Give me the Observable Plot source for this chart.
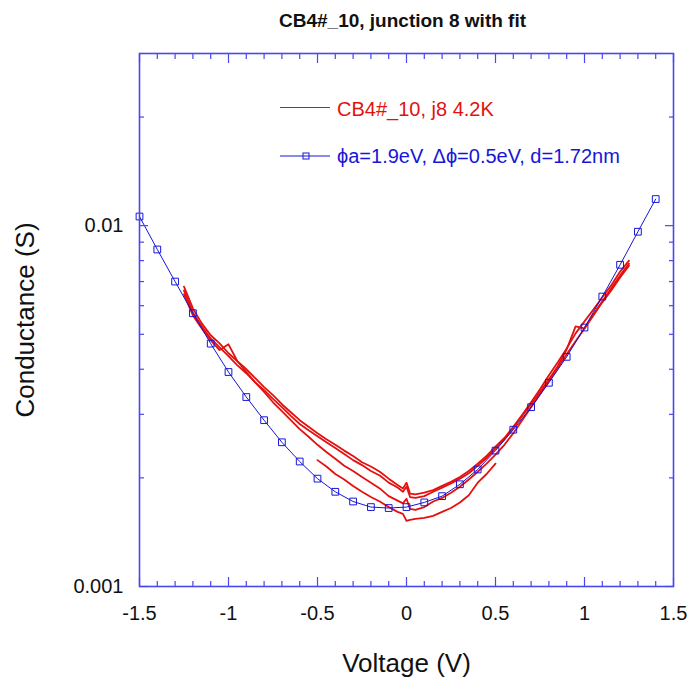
<!DOCTYPE html>
<html><head><meta charset="utf-8">
<script src="https://cdn.jsdelivr.net/npm/d3@7"></script>
<script src="https://cdn.jsdelivr.net/npm/@observablehq/plot@0.6"></script>
<style>
html,body{margin:0;padding:0;background:#fff;}
#chart{position:relative;width:689px;height:681px;}
</style></head><body><div id="chart"></div>
<script>
// ---- data ----
const fitVolts = [-1.5,-1.4,-1.3,-1.2,-1.1,-1.0,-0.9,-0.8,-0.7,-0.6,-0.5,-0.4,-0.3,-0.2,-0.1,0,0.1,0.2,0.3,0.4,0.5,0.6,0.7,0.8,0.9,1.0,1.1,1.2,1.3,1.4];
const fitConductance = [0.0106,0.00859,0.00700,0.00572,0.00471,0.00393,0.00335,0.00289,0.00251,0.00222,0.00199,0.00183,0.00172,0.00166,0.00165,0.00166,0.00171,0.00178,0.00192,0.00211,0.00238,0.00272,0.00314,0.00367,0.00433,0.00522,0.00636,0.00779,0.00962,0.01185];

const sweepVolts = [-1.25,-1.2,-1.15,-1.1,-1.05,-1,-0.95,-0.9,-0.85,-0.8,-0.75,-0.7,-0.65,-0.6,-0.55,-0.5,-0.45,-0.4,-0.35,-0.3,-0.25,-0.2,-0.15,-0.1,-0.05,-0.02,0,0.02,0.05,0.1,0.15,0.2,0.25,0.3,0.35,0.4,0.45,0.5,0.55,0.6,0.65,0.7,0.75,0.8,0.85,0.9,0.95,1,1.05,1.1,1.15,1.2,1.25];
const sweep1 = [0.00678,0.00590,0.00536,0.00497,0.00472,0.00443,0.00421,0.00400,0.00378,0.00357,0.00339,0.00320,0.00304,0.00289,0.00277,0.00266,0.00256,0.00247,0.00238,0.00230,0.00221,0.00215,0.00208,0.00199,0.00191,0.00187,0.00194,0.00181,0.00180,0.00182,0.00185,0.00190,0.00195,0.00201,0.00209,0.00219,0.00230,0.00244,0.00258,0.00277,0.00299,0.00324,0.00352,0.00385,0.00418,0.00457,0.00503,0.00543,0.00586,0.00633,0.00683,0.00746,0.00800];
const sweep2 = [0.00661,0.00575,0.00526,0.00487,0.00460,0.00435,0.00410,0.00390,0.00368,0.00350,0.00331,0.00314,0.00297,0.00282,0.00271,0.00261,0.00251,0.00242,0.00233,0.00224,0.00217,0.00209,0.00203,0.00194,0.00188,0.00183,0.00189,0.00177,0.00176,0.00178,0.00183,0.00188,0.00193,0.00199,0.00206,0.00216,0.00227,0.00241,0.00256,0.00275,0.00297,0.00320,0.00346,0.00375,0.00408,0.00454,0.00526,0.00519,0.00568,0.00617,0.00670,0.00728,0.00785];
const sweep3 = [0.00645,0.00564,0.00519,0.00481,0.00452,0.00469,0.00421,0.00393,0.00368,0.00346,0.00324,0.00306,0.00289,0.00273,0.00260,0.00247,0.00236,0.00226,0.00216,0.00209,0.00201,0.00194,0.00187,0.00178,0.00173,0.00170,0.00175,0.00164,0.00163,0.00166,0.00172,0.00176,0.00182,0.00189,0.00198,0.00208,0.00219,0.00232,0.00247,0.00266,0.00289,0.00314,0.00341,0.00371,0.00403,0.00440,0.00478,0.00519,0.00564,0.00613,0.00661,0.00718,0.00775];
const sweep4 = [null,null,null,null,null,null,null,null,null,null,null,null,null,null,null,0.00224,0.00215,0.00205,0.00198,0.00190,0.00183,0.00177,0.00172,0.00166,0.00161,0.00159,0.00152,0.00153,0.00154,0.00155,0.00157,0.00161,0.00165,0.00171,0.00179,0.00194,0.00205,0.00219,null,null,null,null,null,null,null,null,null,null,null,null,null,null,null];

const xMajorTicks = [-1.5,-1,-0.5,0,0.5,1,1.5];
const xMinorTicks = [-1.4,-1.3,-1.2,-1.1,-0.9,-0.8,-0.7,-0.6,-0.4,-0.3,-0.2,-0.1,0.1,0.2,0.3,0.4,0.6,0.7,0.8,0.9,1.1,1.2,1.3,1.4];
const yMajorTicks = [0.001,0.01];
const yMinorTicks = [0.002,0.003,0.004,0.005,0.006,0.007,0.008,0.009,0.02];

const titleText = "CB4#_10, junction 8 with fit";
const xLabel = "Voltage (V)";
const yLabel = "Conductance (S)";
const legendData = "CB4#_10, j8 4.2K";
const legendFit = "\u03D5a=1.9eV, \u0394\u03D5=0.5eV, d=1.72nm";

// ---- build tables ----
const sweeps = [["sweep 1", sweep1], ["sweep 2", sweep2], ["sweep 3", sweep3], ["sweep 4", sweep4]];
const sweepRows = sweeps.flatMap(([name, vals]) => sweepVolts.map((v, i) => ({v, g: vals[i], sweep: name})));
const fitRows = fitVolts.map((v, i) => ({v, g: fitConductance[i]}));

const axisBlue = "#4848ee";
const red = "#e3110f";
const blue = "#1616d8";
const font = "'Liberation Sans', Arial, Helvetica, sans-serif";

const tickStyle = {fill: "none", stroke: axisBlue, strokeWidth: 1.2, label: null};

const plot = Plot.plot({
  width: 689, height: 681,
  marginLeft: 139, marginRight: 16, marginTop: 53, marginBottom: 95,
  style: {fontFamily: font, background: "#fff", color: "#111", overflow: "visible"},
  x: {domain: [-1.5, 1.5]},
  y: {type: "log", domain: [0.001, 0.03]},
  marks: [
    Plot.line(sweepRows, {x: "v", y: "g", z: "sweep", stroke: red, strokeWidth: 1.8}),
    Plot.line(fitRows, {x: "v", y: "g", stroke: blue, strokeWidth: 1}),
    Plot.dot(fitRows, {x: "v", y: "g", symbol: "square", r: 3.8, stroke: blue, fill: "none", strokeWidth: 1}),
    Plot.frame({stroke: axisBlue, strokeWidth: 1.6}),
    // inward ticks, all four sides
    Plot.axisX(xMajorTicks, {anchor: "bottom", tickSize: -9, ...tickStyle}),
    Plot.axisX(xMinorTicks, {anchor: "bottom", tickSize: -5, ...tickStyle}),
    Plot.axisX(xMajorTicks, {anchor: "top", tickSize: -9, ...tickStyle}),
    Plot.axisX(xMinorTicks, {anchor: "top", tickSize: -5, ...tickStyle}),
    Plot.axisY(yMajorTicks, {anchor: "left", tickSize: -9, ...tickStyle}),
    Plot.axisY(yMinorTicks, {anchor: "left", tickSize: -5, ...tickStyle}),
    Plot.axisY(yMajorTicks, {anchor: "right", tickSize: -9, ...tickStyle}),
    Plot.axisY(yMinorTicks, {anchor: "right", tickSize: -5, ...tickStyle}),
    // tick labels
    Plot.axisX(xMajorTicks, {anchor: "bottom", tickSize: 0, tickPadding: 19, fontSize: 20, tickFormat: d => String(d), label: null, fill: "#111"}),
    Plot.axisY(yMajorTicks, {anchor: "left", tickSize: 0, tickPadding: 16, fontSize: 20, tickFormat: d => String(d), label: null, fill: "#111"}),
    // titles
    Plot.text([titleText], {frameAnchor: "top", lineAnchor: "middle", dx: -4, dy: -33, fontSize: 19, fontWeight: "bold", fill: "#111"}),
    Plot.text([xLabel], {frameAnchor: "bottom", lineAnchor: "middle", textAnchor: "middle", dy: 77, fontSize: 26, fill: "#111"}),
    Plot.text([yLabel], {frameAnchor: "left", lineAnchor: "middle", textAnchor: "middle", dx: -114, rotate: -90, fontSize: 26, fill: "#111"})
  ]
});
document.getElementById("chart").appendChild(plot);

// ---- legend (inside the frame, top) ----
const svg = d3.select(plot);
const lg = svg.append("g").attr("font-family", font).attr("font-size", 20).attr("text-anchor", "start");
lg.append("line").attr("x1", 280).attr("x2", 330).attr("y1", 107.5).attr("y2", 107.5).attr("stroke", red).attr("stroke-width", 1.2);
lg.append("text").attr("x", 337).attr("y", 115.5).attr("fill", red).text(legendData);
lg.append("line").attr("x1", 280).attr("x2", 330).attr("y1", 156).attr("y2", 156).attr("stroke", blue).attr("stroke-width", 1);
lg.append("rect").attr("x", 303).attr("y", 153).attr("width", 6).attr("height", 6).attr("fill", "none").attr("stroke", blue);
lg.append("text").attr("x", 337).attr("y", 163).attr("fill", blue).text(legendFit);
</script>
</body></html>
